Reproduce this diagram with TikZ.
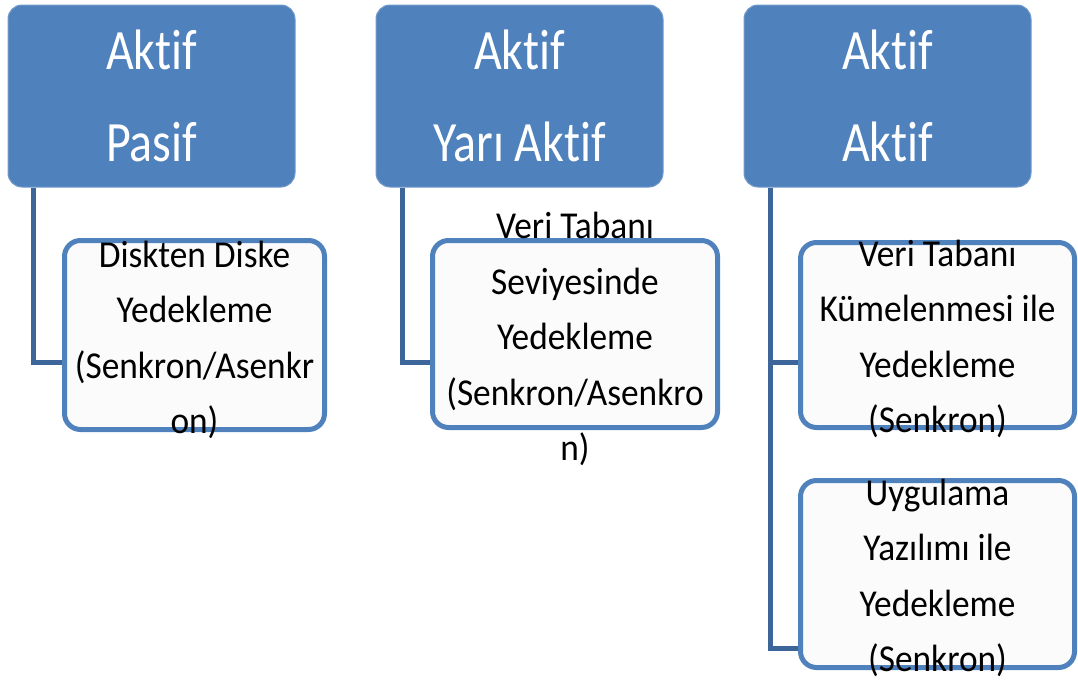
\documentclass[tikz,border=0pt]{standalone}
\usepackage{fontspec}
\setmainfont{Carlito}
\newfontfamily\hdrfont[FakeStretch=0.84, Ligatures=NoCommon]{Carlito}
\newfontfamily\kidfont[FakeStretch=0.93, Ligatures=NoCommon]{Carlito}
\usetikzlibrary{positioning}
\definecolor{hdrblue}{HTML}{4F81BD}
\definecolor{linkblue}{HTML}{3C6699}

\tikzset{
  hdr/.style={rectangle, rounded corners=14pt, fill=hdrblue, draw=hdrblue!80!white, line width=1pt,
    minimum width=287pt, minimum height=182pt, text=white, align=center,
    font=\hdrfont\fontsize{57}{92}\selectfont},
  kid/.style={rectangle, rounded corners=16pt, fill=white!98.5!black, draw=hdrblue, line width=5pt,
    minimum width=260pt},
  kidtext/.style={align=center, font=\kidfont\fontsize{38}{55.5}\selectfont},
  link/.style={draw=linkblue, line width=5pt}
}

\begin{document}
\begin{tikzpicture}[x=1pt,y=-1pt]
  \useasboundingbox (0,0) rectangle (1078,681);

  \node[hdr] (hA) at (151.5,96)  {Aktif\\Pasif};
  \node[hdr] (hB) at (519.5,96)  {Aktif\\Yarı Aktif};
  \node[hdr] (hC) at (887.5,96)  {Aktif\\Aktif};

  \node[kid, minimum width=260pt, minimum height=189pt] (kA) at (194.5,335) {};
  \node[kid, minimum width=285pt, minimum height=187pt] (kB) at (575,334)   {};
  \node[kid, minimum width=274pt, minimum height=185pt] (kC) at (937.5,335) {};
  \node[kid, minimum width=274pt, minimum height=187pt] (kD) at (937.5,574) {};

  % texts spill over the frames
  \node[kidtext] (tA) at ([yshift=-5pt]kA.center) {Diskten Diske\\Yedekleme\\(Senkron/Asenkr\\on)};
  \node[kidtext] (tB) at ([yshift=-5pt]kB.center) {Veri Tabanı\\Seviyesinde\\Yedekleme\\(Senkron/Asenkro\\n)};
  \node[kidtext] (tC) at ([yshift=-4pt]kC.center) {Veri Tabanı\\Kümelenmesi ile\\Yedekleme\\(Senkron)};
  \node[kidtext] (tD) at ([yshift=-4pt]kD.center) {Uygulama\\Yazılımı ile\\Yedekleme\\(Senkron)};

  \coordinate (jA) at (33,362);
  \coordinate (jB) at (402,362);
  \coordinate (jC) at (770,362);
  \coordinate (jD) at (770,648);

  \draw[link] (hA.south -| jA) -- (jA) -- (jA -| kA.west);
  \draw[link] (hB.south -| jB) -- (jB) -- (jB -| kB.west);
  \draw[link] (hC.south -| jC) -- (jD) -- (jD -| kD.west);
  \draw[link] (jC) -- (jC -| kC.west);
\end{tikzpicture}
\end{document}
